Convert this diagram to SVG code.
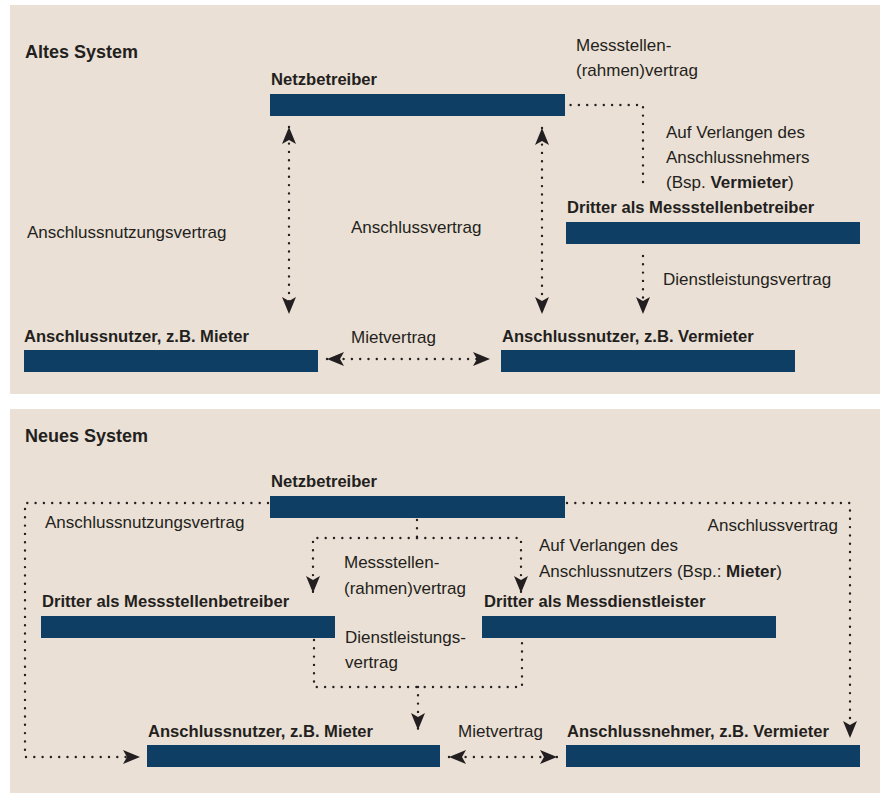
<svg xmlns="http://www.w3.org/2000/svg" width="882" height="806" viewBox="0 0 882 806">
<style>
.panel{fill:#ebe0d5}
.bar{fill:#0f3e64}
text{font-family:"Liberation Sans",Arial,sans-serif;font-size:17px;fill:#231f20}
.b{font-weight:bold;font-size:16.6px}
.h{font-weight:bold;font-size:18px}
.dot{fill:none;stroke:#231f20;stroke-width:2.4;stroke-linecap:round;stroke-dasharray:0 8.3}
.arr{marker-end:url(#ah)}
.arr2{marker-start:url(#ah);marker-end:url(#ah)}
</style>
<defs>
<marker id="ah" markerUnits="userSpaceOnUse" viewBox="0 0 17 14" refX="17" refY="7" markerWidth="17" markerHeight="14" orient="auto-start-reverse">
<path d="M0,0 L17,7 L0,14 L4,7 Z" fill="#231f20"/>
</marker>
</defs>
<rect class="panel" x="10" y="5" width="870" height="389"/>
<rect class="panel" x="10" y="409" width="870" height="384"/>
<text class="h" x="25" y="58">Altes System</text>
<text class="h" x="25" y="442">Neues System</text>

<g id="connectors">
<path class="dot" d="M554,105 L643,105 L643,186"/>
<path class="dot arr2" d="M289,127 L289,314"/>
<path class="dot arr2" d="M542,128 L542,314"/>
<path class="dot arr" d="M643,256 L643,314"/>
<path class="dot arr2" d="M327,359 L490,359"/>

<path class="dot arr" d="M268,503 L25,503 L25,757 L140,757"/>
<path class="dot arr" d="M567,503 L850,503 L850,738"/>
<path class="dot" d="M417,520 L417,538"/>
<path class="dot arr" d="M417,538 L313,538 L313,593"/>
<path class="dot arr" d="M417,538 L521,538 L521,593"/>
<path class="dot" d="M314,640 L314,687 L522,687 L522,640"/>
<path class="dot arr" d="M418,687 L418,730"/>
<path class="dot arr2" d="M449,757 L557,757"/>
</g>

<g id="labels">
<text x="576" y="51">Messstellen-</text>
<text x="576" y="76">(rahmen)vertrag</text>
<text x="666" y="138">Auf Verlangen des</text>
<text x="666" y="163">Anschlussnehmers</text>
<text x="666" y="188">(Bsp. <tspan class="b" style="font-size:17px">Vermieter</tspan>)</text>
<text x="27" y="238">Anschlussnutzungsvertrag</text>
<text x="351" y="233">Anschlussvertrag</text>
<text x="663" y="285">Dienstleistungsvertrag</text>
<text x="351" y="343">Mietvertrag</text>

<text x="45" y="528">Anschlussnutzungsvertrag</text>
<text x="838" y="531" text-anchor="end">Anschlussvertrag</text>
<text x="344" y="568">Messstellen-</text>
<text x="344" y="594">(rahmen)vertrag</text>
<text x="539" y="551">Auf Verlangen des</text>
<text x="539" y="577">Anschlussnutzers (Bsp.: <tspan class="b" style="font-size:17px">Mieter</tspan>)</text>
<text x="345" y="643">Dienstleistungs-</text>
<text x="345" y="668">vertrag</text>
<text x="458" y="737">Mietvertrag</text>
</g>

<g id="netz-alt">
<text class="b" x="271" y="85">Netzbetreiber</text>
<rect class="bar" x="270" y="94" width="295" height="22"/>
</g>
<g id="dritter-alt">
<text class="b" x="567" y="213">Dritter als Messstellenbetreiber</text>
<rect class="bar" x="566" y="222" width="294" height="22"/>
</g>
<g id="nutzer-alt">
<text class="b" x="24" y="342">Anschlussnutzer, z.B. Mieter</text>
<rect class="bar" x="24" y="350" width="294" height="22"/>
</g>
<g id="vermieter-alt">
<text class="b" x="502" y="342">Anschlussnutzer, z.B. Vermieter</text>
<rect class="bar" x="501" y="350" width="294" height="22"/>
</g>

<g id="netz-neu">
<text class="b" x="271" y="487">Netzbetreiber</text>
<rect class="bar" x="270" y="496" width="295" height="22"/>
</g>
<g id="msb-neu">
<text class="b" x="42" y="607">Dritter als Messstellenbetreiber</text>
<rect class="bar" x="41" y="616" width="294" height="22"/>
</g>
<g id="mdl-neu">
<text class="b" x="484" y="607">Dritter als Messdienstleister</text>
<rect class="bar" x="482" y="616" width="294" height="22"/>
</g>
<g id="nutzer-neu">
<text class="b" x="148" y="737">Anschlussnutzer, z.B. Mieter</text>
<rect class="bar" x="147" y="745" width="293" height="22"/>
</g>
<g id="nehmer-neu">
<text class="b" x="567" y="737">Anschlussnehmer, z.B. Vermieter</text>
<rect class="bar" x="566" y="745" width="294" height="22"/>
</g>
</svg>
